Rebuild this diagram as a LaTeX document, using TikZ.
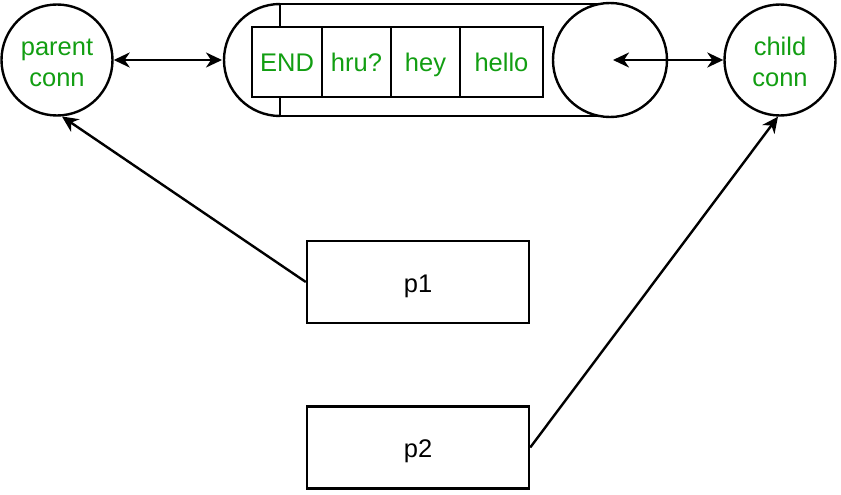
\documentclass[tikz,border=0pt]{standalone}
\usepackage{fontspec}
\setmainfont{Liberation Sans}
\usetikzlibrary{arrows.meta}
\definecolor{tgreen}{HTML}{129E12}
\begin{document}
\begin{tikzpicture}[x=1pt,y=1pt,line width=2.4pt,
  every node/.style={font=\fontsize{25.5}{32}\selectfont},
  conn/.style={circle,draw,minimum size=111pt,inner sep=0pt,align=center,text=tgreen,text height=54pt,text depth=0pt},
  cell/.style={draw,minimum height=70pt,inner sep=0pt,text=tgreen,text height=20pt,text depth=0pt},
  proc/.style={draw,minimum width=222pt,minimum height=82pt,inner sep=0pt,text height=20pt,text depth=0pt},
  arr/.style={-{Stealth[length=16pt,width=15pt,inset=5pt]}},
  darr/.style={{Stealth[length=16pt,width=15pt,inset=5pt]}-{Stealth[length=16pt,width=15pt,inset=5pt]}}]
\useasboundingbox (0,0) rectangle (841,-495);
% connection ends
\node[conn] (parent) at (57,-60) {parent\\conn};
\node[conn] (child) at (780,-60) {child\\conn};
% pipe
\draw (280,-4) arc[start angle=90,end angle=270,radius=56];
\draw (280,-4) -- (610,-4);
\draw (280,-116) -- (610,-116);
\draw (280,-4) -- (280,-116);
\draw[fill=white] (610,-60) circle (57);
\coordinate (pipeL) at (222,-60);
\coordinate (pipeR) at (613,-60);
% messages
\node[cell,fill=white,minimum width=70pt] (b1) at (287,-62) {END};
\node[cell,minimum width=69pt] (b2) at (356.5,-62) {hru?};
\node[cell,minimum width=69pt] (b3) at (425.5,-62) {hey};
\node[cell,minimum width=83pt] (b4) at (501.5,-62) {hello};
% processes
\node[proc] (p1) at (418,-282) {p1};
\node[proc] (p2) at (418,-447.5) {p2};
% connectors
\draw[darr] (parent.east) -- (pipeL);
\draw[darr] (pipeR) -- (child.west);
\draw[arr] (p1.west) -- (parent.-85);
\draw[arr] (p2.east) -- (child.-92);
\end{tikzpicture}
\end{document}
